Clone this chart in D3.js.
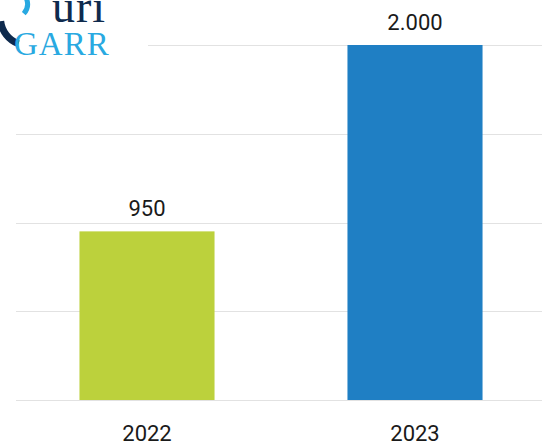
<!DOCTYPE html>
<html><head><meta charset="utf-8">
<script src="https://cdn.jsdelivr.net/npm/d3@7"></script>
<style>body{margin:0;background:#fff}svg{display:block}
.logo text{font-family:"Liberation Serif",serif}
.lbl{font-family:Roboto,"Noto Sans",sans-serif}
</style>
</head><body>
<svg id="c" width="551" height="444"></svg>
<script>
const categories = ["2022", "2023"];
const values = [950, 2000];
const valueLabels = ["950", "2.000"];
const colors = ["#bcd13c", "#1f7fc4"];
const yTicks = [0, 500, 1000, 1500, 2000];

const svg = d3.select("#c");
const x = d3.scaleBand().domain(categories).range([13, 549]).paddingInner(0.496).paddingOuter(0.248);
const y = d3.scaleLinear().domain([0, 2000]).range([400, 45]);

// gridlines
svg.append("g").selectAll("line").data(yTicks).join("line")
  .attr("x1", 16).attr("x2", 542)
  .attr("y1", d => Math.round(y(d)) + 0.5).attr("y2", d => Math.round(y(d)) + 0.5)
  .attr("stroke", "#e2e2e2").attr("stroke-width", 1);

// bars
svg.append("g").selectAll("rect").data(values).join("rect")
  .attr("x", (d, i) => x(categories[i]))
  .attr("width", x.bandwidth())
  .attr("y", d => y(d))
  .attr("height", d => y(0) - y(d))
  .attr("fill", (d, i) => colors[i]);

// value labels
svg.append("g").selectAll("text").data(values).join("text")
  .attr("class", "lbl")
  .attr("x", (d, i) => x(categories[i]) + x.bandwidth() / 2)
  .attr("y", d => y(d) - 15)
  .attr("text-anchor", "middle")
  .attr("font-size", 22).attr("fill", "#1a1a1a")
  .text((d, i) => valueLabels[i]);

// x axis labels
const xAxis = d3.axisBottom(x).tickSize(0).tickPadding(0);
const gx = svg.append("g").attr("transform", "translate(0,441)").call(xAxis);
gx.select(".domain").remove();
gx.selectAll("text").attr("class", "lbl")
  .attr("font-size", 22).attr("fill", "#1a1a1a").attr("dy", "0");

// logo (white backing)
const logo = svg.append("g").attr("class", "logo");
logo.append("rect").attr("x", 0).attr("y", 0).attr("width", 148).attr("height", 62).attr("fill", "#fff");
const arcB = d3.arc().innerRadius(12).outerRadius(17).startAngle(0.1).endAngle(2.3);
logo.append("path").attr("d", arcB()).attr("transform", "translate(13,4)").attr("fill", "#29a9e1");
const arcN = d3.arc().innerRadius(24).outerRadius(31).startAngle(3.5).endAngle(4.6);
logo.append("path").attr("d", arcN()).attr("transform", "translate(28,18)").attr("fill", "#0e2a4d");
logo.append("text").attr("x", 52).attr("y", 22)
  .attr("font-size", 46).attr("letter-spacing", 1).attr("fill", "#0e2a4d").text("uri");
logo.append("text").attr("x", 14).attr("y", 55)
  .attr("font-size", 33).attr("letter-spacing", 1).attr("fill", "#29a9e1").text("GARR");
</script>
</body></html>
